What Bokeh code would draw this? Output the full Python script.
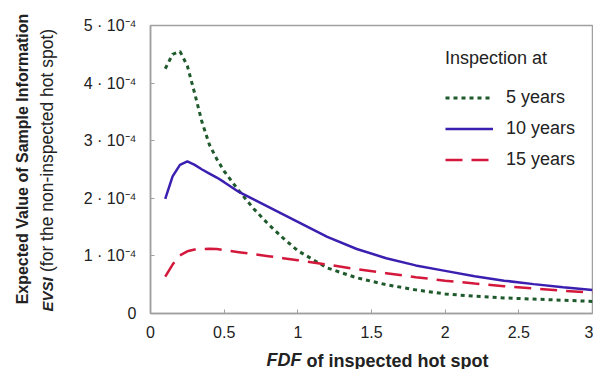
import numpy as np
from bokeh.plotting import figure
from bokeh.models import Range1d, FixedTicker, Label, Legend
from bokeh.embed import file_html
from bokeh.resources import INLINE

# FDF of inspected hot spot
fdf = [0.1, 0.15, 0.2, 0.25, 0.3, 0.35, 0.4, 0.45, 0.5, 0.6, 0.7, 0.8, 0.9, 1.0,
       1.2, 1.4, 1.6, 1.8, 2.0, 2.2, 2.4, 2.6, 2.8, 3.0]
# EVSI in units of 1e-4
evsi_5y = [4.25, 4.50, 4.55, 4.30, 3.82, 3.32, 2.93, 2.68, 2.47, 2.13, 1.82, 1.55, 1.31, 1.09,
           0.79, 0.62, 0.50, 0.41, 0.34, 0.30, 0.27, 0.25, 0.23, 0.21]
evsi_10y = [1.99, 2.38, 2.58, 2.64, 2.58, 2.50, 2.43, 2.36, 2.28, 2.11, 1.98, 1.85, 1.72, 1.59,
            1.33, 1.12, 0.96, 0.835, 0.74, 0.645, 0.57, 0.51, 0.455, 0.41]
evsi_15y = [0.64, 0.85, 1.01, 1.08, 1.11, 1.12, 1.125, 1.12, 1.10, 1.065, 1.03, 0.995, 0.96, 0.925,
            0.85, 0.77, 0.70, 0.63, 0.57, 0.52, 0.475, 0.435, 0.395, 0.36]

x_ticks = [0, 0.5, 1, 1.5, 2, 2.5, 3]
x_tick_labels = ["0", "0.5", "1", "1.5", "2", "2.5", "3"]
y_ticks = [0, 1, 2, 3, 4, 5]
y_tick_labels = ["0", "1 · 10⁻⁴", "2 · 10⁻⁴", "3 · 10⁻⁴", "4 · 10⁻⁴", "5 · 10⁻⁴"]

series_names = ["5 years", "10 years", "15 years"]
FONT = "Liberation Sans"
TXT = "#222222"
GRAY = "#a0a0a0"

p = figure(width=593, height=369, output_backend="svg", toolbar_location=None,
           x_range=Range1d(0, 3), y_range=Range1d(0, 5),
           min_border_left=150, min_border_right=1, min_border_top=25, min_border_bottom=56)
p.background_fill_color = "white"
p.border_fill_color = "white"
p.outline_line_color = GRAY
p.outline_line_width = 1.5
p.grid.visible = False

for ax in (p.xaxis[0], p.yaxis[0]):
    ax.axis_line_color = GRAY
    ax.axis_line_width = 1.5
    ax.major_tick_line_color = GRAY
    ax.major_tick_in = 4
    ax.major_tick_out = 0
    ax.minor_tick_line_color = None
    ax.major_label_text_font = FONT
    ax.major_label_text_font_size = "16px"
    ax.major_label_text_color = TXT

p.xaxis[0].ticker = FixedTicker(ticks=x_ticks)
p.xaxis[0].major_label_overrides = {t: l for t, l in zip(x_ticks, x_tick_labels)}
p.xaxis[0].major_label_standoff = 12
p.yaxis[0].ticker = FixedTicker(ticks=y_ticks)
p.yaxis[0].major_label_overrides = {t: l for t, l in zip(y_ticks, y_tick_labels)}
p.yaxis[0].major_label_standoff = 14

r5 = p.line(fdf, evsi_5y, line_color="#1f5a2c", line_width=3, line_dash="4 4")
r10 = p.line(fdf, evsi_10y, line_color="#3b1fb0", line_width=2.5)
r15 = p.line(fdf, evsi_15y, line_color="#d4183c", line_width=2.5, line_dash="17 9")

legend = Legend(items=[(series_names[0], [r5]), (series_names[1], [r10]), (series_names[2], [r15])],
                title="Inspection at", location=(295, 143),
                border_line_color=None, background_fill_alpha=0,
                padding=0, margin=0, spacing=10, glyph_width=48, glyph_height=21,
                label_height=21, label_standoff=13, title_standoff=18,
                label_text_font=FONT, label_text_font_size="18px", label_text_color=TXT,
                title_text_font=FONT, title_text_font_size="18px", title_text_color=TXT,
                title_text_font_style="normal")
p.add_layout(legend, "center")


def lab(place, x, y, text, size, style="normal", align="left", angle=0.0):
    p.add_layout(Label(x=x, y=y, x_units="screen", y_units="screen", text=text,
                       text_font=FONT, text_font_size=size, text_font_style=style,
                       text_color=TXT, text_align=align, text_baseline="middle", angle=angle),
                 place)

# y axis title (two lines, rotated) in left side panels
lab("left", -16, 2, "EVSI", "15px", style="bold italic", align="left", angle=np.pi / 2)
lab("left", 3.5, 41.5, "(for the non-inspected hot spot)", "17.5px", align="left", angle=np.pi / 2)
lab("left", -4, 154.5, "Expected Value of Sample Information", "16px", style="bold",
    align="center", angle=np.pi / 2)
# x axis title
lab("above", 116, -334, "FDF", "18px", style="bold italic", align="left")
lab("below", 156, 0, "of inspected hot spot", "18px", style="bold", align="left")

open("out.html", "w").write(file_html(p, INLINE))
